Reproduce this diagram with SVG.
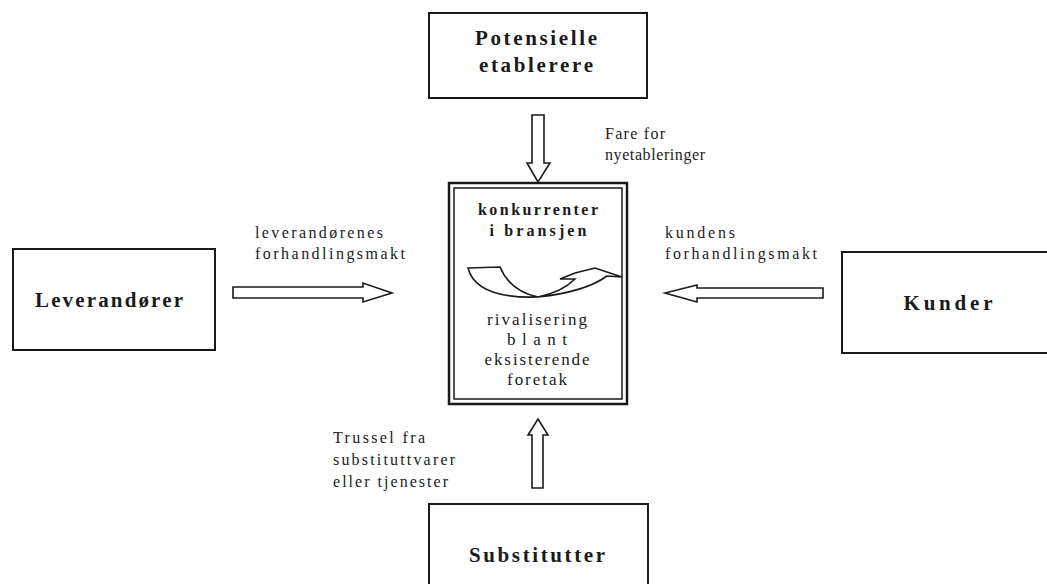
<svg xmlns="http://www.w3.org/2000/svg" width="1047" height="584" viewBox="0 0 1047 584">
<style>
.box{fill:#fff;stroke:#1a1a1a;stroke-width:2}
.arr{fill:#fff;stroke:#1a1a1a;stroke-width:1.6;stroke-linejoin:miter}
.title{font-family:"Liberation Serif",serif;font-weight:bold;font-size:21px;fill:#1a1a1a}
.inner{font-family:"Liberation Serif",serif;font-size:17px;fill:#1a1a1a}
.innerb{font-family:"Liberation Serif",serif;font-weight:bold;font-size:16px;fill:#1a1a1a}
.lbl{font-family:"Liberation Serif",serif;font-size:16px;fill:#1a1a1a}
</style>
<rect width="1047" height="584" fill="#fff"/>
<g id="connectors">
  <path class="arr" d="M532,115 L544,115 L544,163 L550,163 L538,182 L527,163 L532,163 Z"/>
  <path class="arr" d="M532,488 L543,488 L543,435 L548,435 L538,419 L528,435 L532,435 Z"/>
  <path class="arr" d="M233,287 L363,287 L363,283 L392,293 L363,302 L363,298 L233,298 Z"/>
  <path class="arr" d="M823,288 L697,288 L697,285 L665,293 L697,302 L697,298 L823,298 Z"/>
</g>
<g id="label-nyetablering">
  <text class="lbl" x="605" y="139" textLength="60" lengthAdjust="spacing">Fare for</text>
  <text class="lbl" x="605" y="160" textLength="100" lengthAdjust="spacing">nyetableringer</text>
</g>
<g id="label-leverandor">
  <text class="lbl" x="255" y="238" textLength="128" lengthAdjust="spacing">leverandørenes</text>
  <text class="lbl" x="255" y="259" textLength="150" lengthAdjust="spacing">forhandlingsmakt</text>
</g>
<g id="label-kunde">
  <text class="lbl" x="665" y="238" textLength="70" lengthAdjust="spacing">kundens</text>
  <text class="lbl" x="665" y="259" textLength="152" lengthAdjust="spacing">forhandlingsmakt</text>
</g>
<g id="label-substitutt">
  <text class="lbl" x="333" y="443" textLength="92" lengthAdjust="spacing">Trussel fra</text>
  <text class="lbl" x="333" y="465" textLength="122" lengthAdjust="spacing">substituttvarer</text>
  <text class="lbl" x="333" y="487" textLength="115" lengthAdjust="spacing">eller tjenester</text>
</g>
<g id="node-potensielle">
  <rect class="box" x="429" y="13" width="218" height="85"/>
  <text class="title" x="536" y="45" text-anchor="middle" textLength="122" lengthAdjust="spacing">Potensielle</text>
  <text class="title" x="536" y="72" text-anchor="middle" textLength="114" lengthAdjust="spacing">etablerere</text>
</g>
<g id="node-leverandorer">
  <rect class="box" x="13" y="249" width="202" height="101"/>
  <text class="title" x="109" y="307" text-anchor="middle" textLength="148" lengthAdjust="spacing">Leverandører</text>
</g>
<g id="node-kunder">
  <rect class="box" x="842" y="252" width="210" height="101"/>
  <text class="title" x="948" y="310" text-anchor="middle" textLength="89" lengthAdjust="spacing">Kunder</text>
</g>
<g id="node-substitutter">
  <rect class="box" x="429" y="504" width="219" height="90"/>
  <text class="title" x="537" y="562" text-anchor="middle" textLength="136" lengthAdjust="spacing">Substitutter</text>
</g>
<g id="node-konkurrenter">
  <rect x="449" y="183" width="178" height="221" fill="#fff" stroke="#1a1a1a" stroke-width="2.5"/>
  <rect x="454" y="188" width="168" height="211" fill="none" stroke="#1a1a1a" stroke-width="1.5"/>
  <text class="innerb" x="538" y="215" text-anchor="middle" textLength="120" lengthAdjust="spacing">konkurrenter</text>
  <text class="innerb" x="538" y="236" text-anchor="middle" textLength="97" lengthAdjust="spacing">i  bransjen</text>
  <path class="arr" stroke-width="1.4" d="M468,268 L500,267 Q510,291 538,297 Q476,299 468,268 Z"/>
  <path class="arr" stroke-width="1.4" d="M538,297 Q585,292 607,276 L622,277 L595,268 L575,273 L560,279 L575,279 Q562,292 538,297 Z"/>
  <text class="inner" x="537" y="325" text-anchor="middle" textLength="100" lengthAdjust="spacing">rivalisering</text>
  <text class="inner" x="537" y="345" text-anchor="middle" textLength="60" lengthAdjust="spacing">blant</text>
  <text class="inner" x="537" y="365" text-anchor="middle" textLength="105" lengthAdjust="spacing">eksisterende</text>
  <text class="inner" x="537" y="385" text-anchor="middle" textLength="60" lengthAdjust="spacing">foretak</text>
</g>
</svg>
